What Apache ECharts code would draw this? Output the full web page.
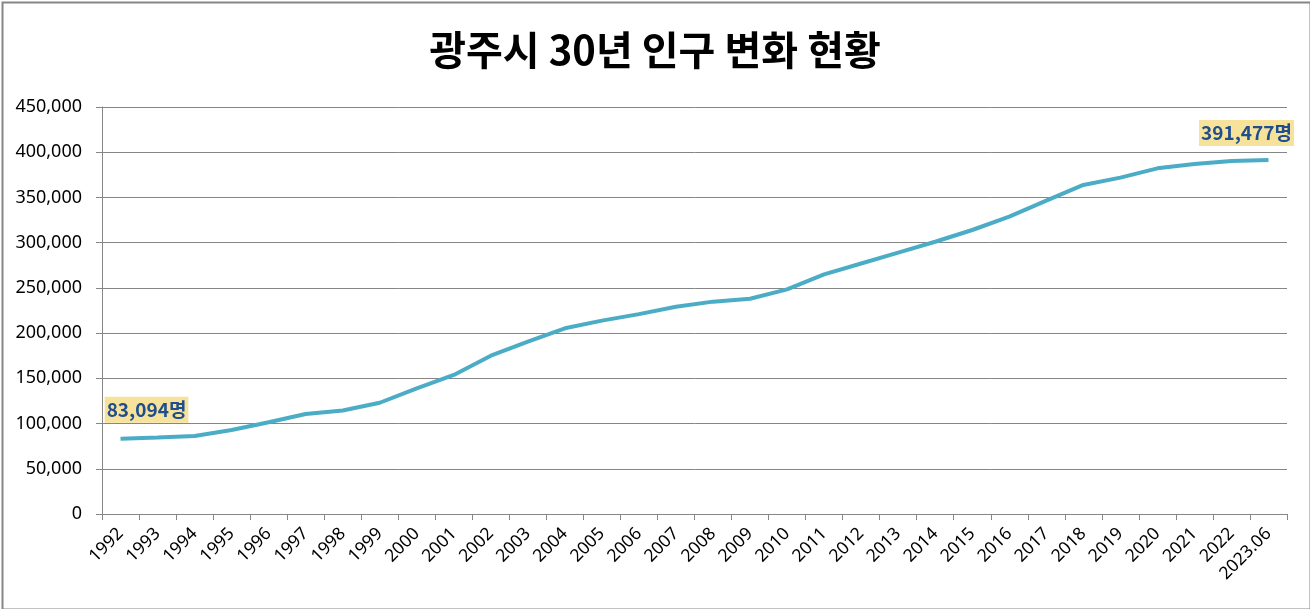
<!DOCTYPE html>
<html><head><meta charset="utf-8">
<script src="https://cdn.jsdelivr.net/npm/echarts@6/dist/echarts.min.js"></script>
<style>html,body{margin:0;padding:0;background:#fff}#c{width:1310px;height:609px}</style>
</head><body><div id="c"></div>
<script>
const titleText = '광주시 30년 인구 변화 현황';
const categories = ['1992','1993','1994','1995','1996','1997','1998','1999','2000','2001','2002','2003','2004','2005','2006','2007','2008','2009','2010','2011','2012','2013','2014','2015','2016','2017','2018','2019','2020','2021','2022','2023.06'];
const population = [83094,84500,86200,92900,101500,110600,114500,123000,139000,153700,175000,190500,205300,213800,221000,229200,234800,238000,248400,265000,277000,289000,301000,314000,328700,346400,363800,371900,382200,387000,390300,391477];
const yTicks = {min:0, max:450000, interval:50000};
const unit = '명';

const chart = echarts.init(document.getElementById('c'), null, {renderer:'canvas'});
const fmt = v => v.toLocaleString('en-US');
const lastIdx = population.length - 1;
const labelStyle = {
  show:true, fontFamily:'"Noto Sans CJK KR", sans-serif', fontWeight:'bold', fontSize:19,
  color:'#1F4E8C', backgroundColor:'#F6E29B', padding:[4,2,3,2],
  align:'center', verticalAlign:'middle',
  formatter: p => fmt(p.value) + unit
};
chart.setOption({
  animation:false,
  backgroundColor:'#fff',
  title:{text:titleText, left:'center', top:25,
    textStyle:{fontFamily:'"Noto Sans CJK KR", sans-serif', fontWeight:'bold', fontSize:40, color:'#000'}},
  graphic:[{type:'rect', left:0, top:0, shape:{x:0.5,y:0.5,width:1308,height:607}, style:{fill:null, stroke:'#868686', lineWidth:2}, silent:true}],
  grid:{left:102, right:23, top:107, bottom:95},
  xAxis:{type:'category', data:categories, boundaryGap:true,
    axisLine:{lineStyle:{color:'#868686', width:1}},
    axisTick:{show:true, length:6, alignWithLabel:false, lineStyle:{color:'#868686'}},
    axisLabel:{rotate:45, interval:0, fontFamily:'"Noto Sans", sans-serif', fontSize:17.5, color:'#000', margin:17}},
  yAxis:{type:'value', min:yTicks.min, max:yTicks.max, interval:yTicks.interval,
    axisLine:{show:true, lineStyle:{color:'#868686'}},
    axisTick:{show:true, length:6, lineStyle:{color:'#868686'}},
    splitLine:{lineStyle:{color:'#868686', width:1}},
    axisLabel:{fontFamily:'"Noto Sans", sans-serif', fontSize:18, color:'#000', margin:20, formatter: v => fmt(v)}},
  series:[{type:'line', data:population.map((v,i)=>{
      const d = {value:v};
      if(i===0) d.label = Object.assign({}, labelStyle, {position:[26,-29]});
      else if(i===lastIdx) d.label = Object.assign({}, labelStyle, {position:[-22,-27]});
      return d;
    }),
    showSymbol:true, symbol:'circle', symbolSize:0, lineStyle:{color:'#4BACC6', width:4}, itemStyle:{color:'#4BACC6'},
    label:{show:false}, labelLayout:{hideOverlap:false}}]
});
</script></body></html>
